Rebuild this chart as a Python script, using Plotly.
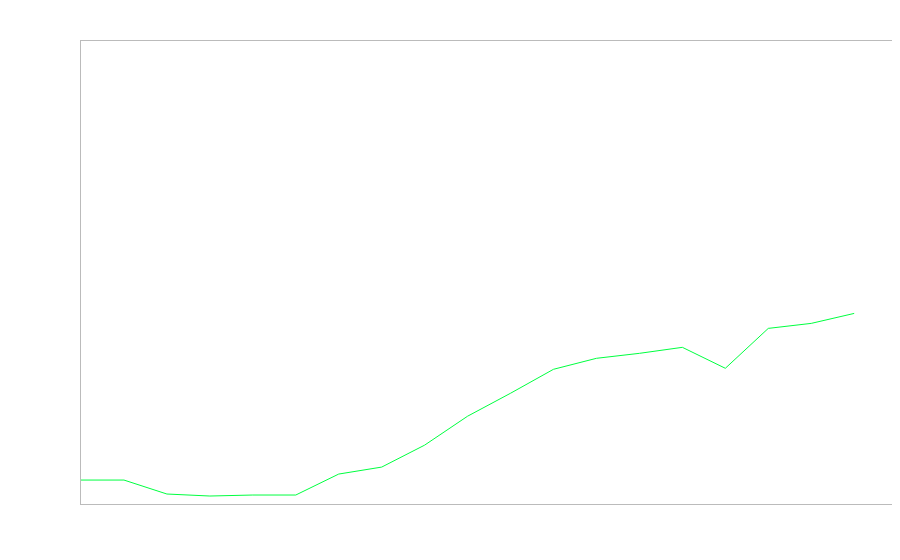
import plotly.graph_objects as go

periods = list(range(19))
values = [24, 24, 10, 8, 9, 9, 30, 37, 59, 88, 111, 135, 146, 151, 157, 136, 176, 181, 191]

fig = go.Figure(go.Scatter(x=periods, y=values, mode="lines",
                           line=dict(color="#00FF40", width=1),
                           hoverinfo="skip"))
axis_common = dict(showgrid=False, zeroline=False, showticklabels=False, ticks="",
                   showline=True, mirror=True, linecolor="#BBBBBB", linewidth=1)
fig.update_layout(
    width=900, height=560,
    margin=dict(l=73, r=16, t=33, b=64),
    paper_bgcolor="white", plot_bgcolor="white",
    showlegend=False,
    xaxis=dict(range=[0, 18.88], **axis_common),
    yaxis=dict(range=[0, 464], **axis_common),
)
fig.write_html("out.html")
